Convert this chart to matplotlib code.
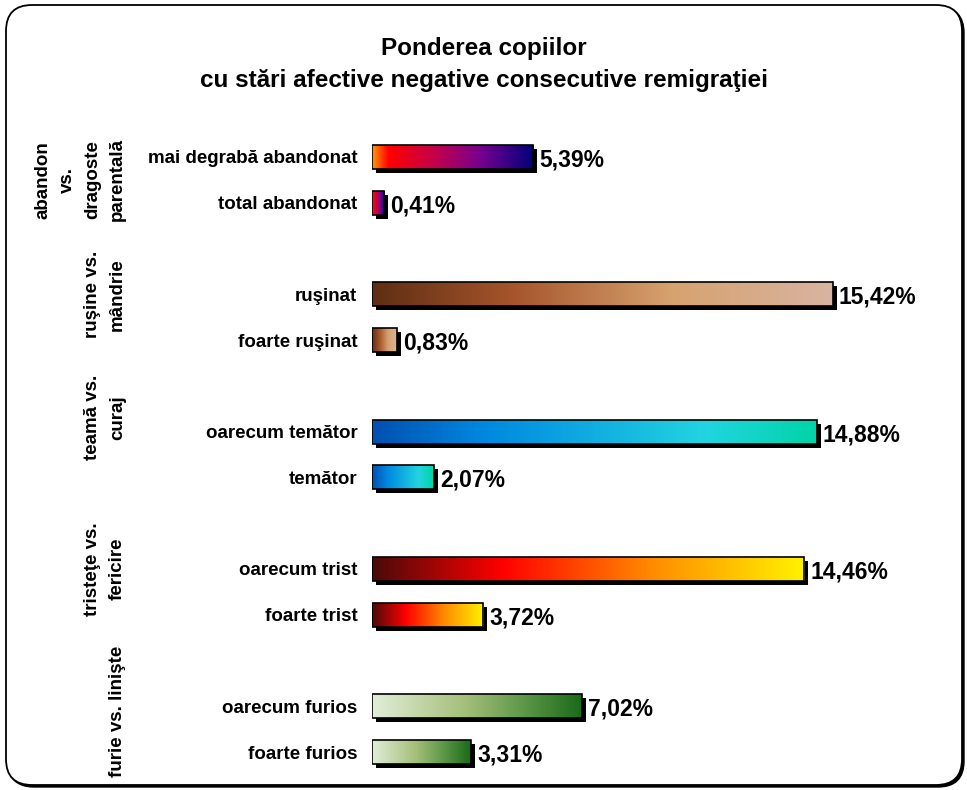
import numpy as np
import matplotlib
matplotlib.use('Agg')
import matplotlib.pyplot as plt
from matplotlib.colors import LinearSegmentedColormap
from matplotlib.patches import Rectangle, FancyBboxPatch
from matplotlib.transforms import offset_copy, blended_transform_factory

plt.rcParams['font.family'] = ['Liberation Sans', 'DejaVu Sans']
plt.rcParams['font.weight'] = 'bold'

# data
categories = ['mai degrabă abandonat', 'total abandonat',
              'ruşinat', 'foarte ruşinat',
              'oarecum temător', 'temător',
              'oarecum trist', 'foarte trist',
              'oarecum furios', 'foarte furios']
values = [5.39, 0.41, 15.42, 0.83, 14.88, 2.07, 14.46, 3.72, 7.02, 3.31]
value_labels = ['5,39%', '0,41%', '15,42%', '0,83%', '14,88%', '2,07%',
                '14,46%', '3,72%', '7,02%', '3,31%']
groups = ['abandon\nvs.\ndragoste\nparentală', 'ruşine vs.\nmândrie',
          'teamă vs.\ncuraj', 'tristeţe vs.\nfericire', 'furie vs. linişte']
title = 'Ponderea copiilor\ncu stări afective negative consecutive remigraţiei'

# layout
slots = [0, 1, 3, 4, 6, 7, 9, 10, 12, 13]
group_centers = [0.5, 3.0, 5.7, 9.0, 12.1]
group_of_bar = [0, 0, 1, 1, 2, 2, 3, 3, 4, 4]

# gradient per group
gradients = [
    [(0, '#FF9900'), (0.1, '#FF0000'), (0.4, '#C0004E'), (0.68, '#720090'), (1, '#00007A')],
    [(0, '#5E2E14'), (0.3, '#A5542A'), (0.65, '#D6A26E'), (1, '#D9B4A2')],
    [(0, '#0050B0'), (0.25, '#0088E0'), (0.75, '#22D4E0'), (1, '#00D4A8')],
    [(0, '#4A0A0A'), (0.3, '#FF0000'), (0.65, '#FF8C00'), (1, '#FFF200')],
    [(0, '#E2EED8'), (0.45, '#A3BE78'), (0.72, '#5E9848'), (1, '#1A6A1A')],
]
cmaps = [LinearSegmentedColormap.from_list('g%d' % i, g) for i, g in enumerate(gradients)]

W, H = 967, 790
fig = plt.figure(figsize=(W / 100, H / 100), dpi=100)

# background frame in pixel units
bg = fig.add_axes([0, 0, 1, 1], zorder=0)
bg.set_xlim(0, W)
bg.set_ylim(H, 0)
bg.axis('off')
bg.add_patch(FancyBboxPatch((8, 7), 956, 780, boxstyle='round,pad=0,rounding_size=26',
                            facecolor='black', edgecolor='black', lw=1))
bg.add_patch(FancyBboxPatch((6, 5), 956, 780, boxstyle='round,pad=0,rounding_size=26',
                            facecolor='white', edgecolor='black', lw=1.3))
bg.text(W / 2, 64, title, ha='center', va='center', fontsize=17.5, fontweight='bold',
        linespacing=1.5)

# main bar axes
ax = fig.add_axes([372 / W, 15 / H, 559 / W, 641 / H], zorder=1)
ax.patch.set_alpha(0)
for s in ax.spines.values():
    s.set_visible(False)
ax.set_xticks([])
ax.set_yticks(slots)
ax.set_yticklabels(categories, fontsize=13.5, fontweight='bold')
ax.tick_params(axis='y', length=0, pad=10.5)

bh = 0.52
shadow_tr = offset_copy(ax.transData, fig=fig, x=4, y=-4, units='dots')
grad = np.linspace(0, 1, 256).reshape(1, -1)
for v, y, g, lab in zip(values, slots, group_of_bar, value_labels):
    ax.add_patch(Rectangle((0, y - bh / 2), v, bh, facecolor='black', edgecolor='none',
                           transform=shadow_tr, zorder=1))
    ax.imshow(grad, cmap=cmaps[g], aspect='auto', extent=[0, v, y + bh / 2, y - bh / 2],
              zorder=2, interpolation='bilinear')
    ax.add_patch(Rectangle((0, y - bh / 2), v, bh, facecolor='none', edgecolor='black',
                           lw=1.2, zorder=3))
    ax.annotate(lab, (v, y), xytext=(6, -3), textcoords='offset pixels', ha='left',
                va='center', fontsize=16.5, fontweight='bold')
ax.set_xlim(0, 18.7)
ax.set_ylim(13.5, -0.5)

# group labels, rotated
tr = blended_transform_factory(fig.transFigure, ax.transData)
for gl, gc in zip(groups, group_centers):
    ax.text(126 / W, gc, gl, transform=tr, rotation=90, ha='right', va='center',
            multialignment='center', fontsize=13.5, fontweight='bold', linespacing=1.6)

fig.savefig('out.png', dpi=100)
